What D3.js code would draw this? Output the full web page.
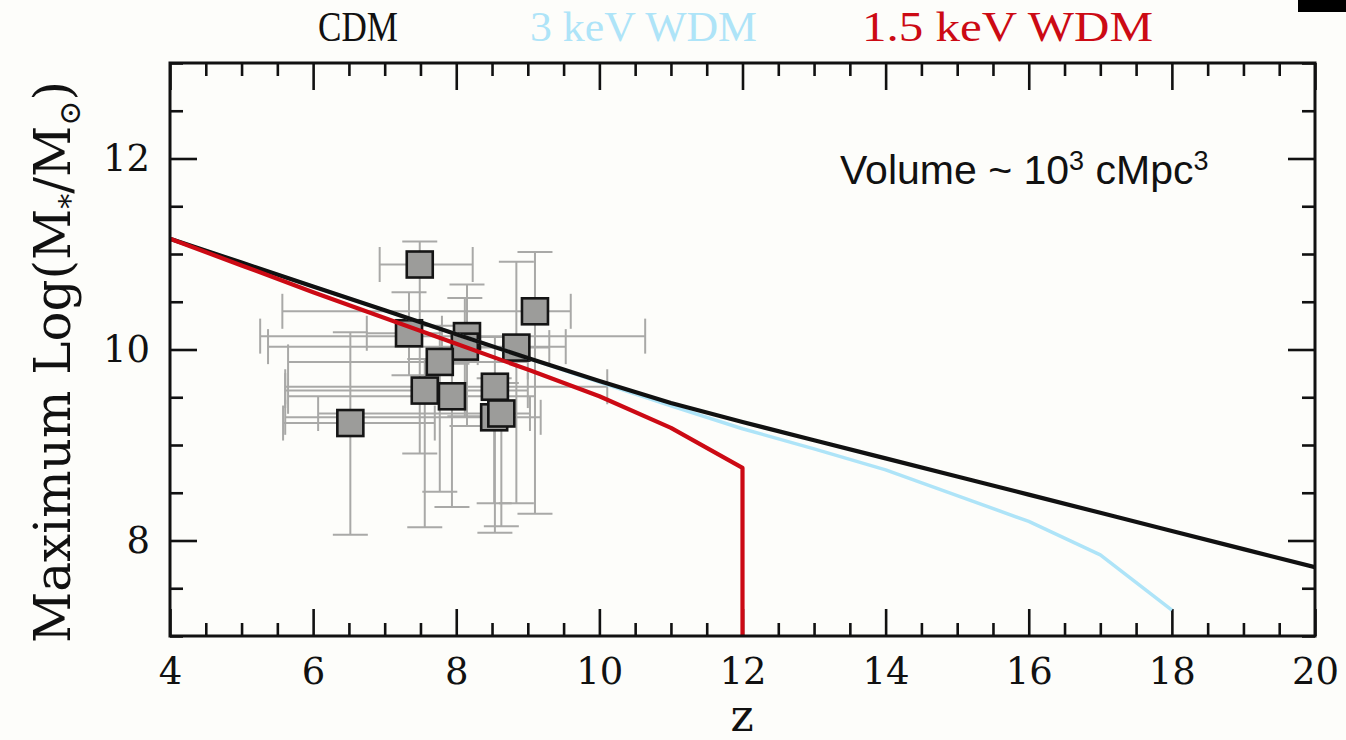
<!DOCTYPE html>
<html>
<head>
<meta charset="utf-8">
<script src="https://cdn.jsdelivr.net/npm/d3@7"></script>
<style>
  html, body { margin: 0; padding: 0; background: #fdfdfa; }
  svg { display: block; }
</style>
</head>
<body>
<svg id="chart" width="1346" height="740"></svg>
<script>
// Redshift grid for the model curves
const zCDM = [4, 5, 6, 7, 8, 9, 10, 11, 12, 13, 14, 15, 16, 17, 18, 19, 20];
const logMCDM = [11.16, 10.91, 10.66, 10.41, 10.16, 9.91, 9.67, 9.44, 9.24, 9.05, 8.86, 8.67, 8.48, 8.29, 8.10, 7.91, 7.72];

const zWDM3 = [4, 5, 6, 7, 8, 9, 10, 11, 12, 13, 14, 15, 16, 17, 18];
const logMWDM3 = [11.16, 10.91, 10.66, 10.41, 10.16, 9.91, 9.66, 9.41, 9.17, 8.96, 8.74, 8.47, 8.20, 7.85, 7.27];

const zWDM15 = [4, 5, 6, 7, 8, 9, 10, 11, 12, 12];
const logMWDM15 = [11.16, 10.88, 10.60, 10.33, 10.06, 9.79, 9.51, 9.18, 8.76, 6.90];

// Observed galaxies: redshift and stellar mass with their error ranges
const galZ    = [7.49, 7.34, 8.15, 8.12, 7.77, 8.84, 9.10, 7.56, 7.94, 8.54, 8.53, 8.63, 6.52];
const galZLo  = [6.93, 6.75, 5.26, 5.37, 5.65, 8.30, 5.57, 5.61, 5.65, 5.61, 5.61, 6.07, 5.58];
const galZHi  = [8.23, 7.80, 10.64, 9.53, 9.00, 9.30, 9.60, 9.00, 9.10, 10.11, 9.18, 9.03, 7.70];
const galM    = [10.89, 10.17, 10.14, 10.03, 9.87, 10.02, 10.40, 9.57, 9.51, 9.61, 9.29, 9.33, 9.23];
const galMLo  = [8.91, 9.73, 9.20, 9.30, 8.51, 8.39, 8.28, 8.14, 8.35, 8.08, 8.39, 8.15, 8.06];
const galMHi  = [11.13, 10.60, 10.68, 10.54, 10.25, 10.92, 11.02, 9.90, 9.85, 10.13, 9.70, 9.65, 10.18];

const xMajor = [4, 6, 8, 10, 12, 14, 16, 18, 20];
const yMajor = [8, 10, 12];

const legendLabels = ["CDM", "3 keV WDM", "1.5 keV WDM"];
const legendColors = ["#111111", "#aee4f8", "#cc0a14"];

const svg = d3.select("#chart");
const W = 1346, H = 740;
const padL = 170, padR = 1315, padT = 63, padB = 636;

svg.append("rect").attr("width", W).attr("height", H).attr("fill", "#fdfdfa");

const x = d3.scaleLinear().domain([4, 20]).range([padL, padR]);
const y = d3.scaleLinear().domain([7, 13]).range([padB, padT]);

const xMinor = d3.range(4, 20.01, 0.5).filter(v => !xMajor.includes(v));
const yMinor = d3.range(7, 13.01, 0.5).filter(v => !yMajor.includes(v));

const serif = "'DejaVu Serif', serif";

function styleAxis(g) {
  g.select(".domain").remove();
  g.selectAll(".tick line").attr("stroke", "#111").attr("stroke-width", 2.6);
  g.selectAll(".tick text").attr("fill", "#111").attr("font-family", serif).attr("font-size", 37);
}

// bottom axis: major ticks with labels, minor ticks
svg.append("g").attr("transform", `translate(0,${padB})`)
  .call(d3.axisBottom(x).tickValues(xMajor).tickSize(-27).tickPadding(22).tickFormat(d3.format("d")))
  .call(styleAxis);
svg.append("g").attr("transform", `translate(0,${padB})`)
  .call(d3.axisBottom(x).tickValues(xMinor).tickSize(-13).tickFormat(""))
  .call(styleAxis);

// top axis mirrors the bottom
svg.append("g").attr("transform", `translate(0,${padT})`)
  .call(d3.axisTop(x).tickValues(xMajor).tickSize(-27).tickFormat(""))
  .call(styleAxis);
svg.append("g").attr("transform", `translate(0,${padT})`)
  .call(d3.axisTop(x).tickValues(xMinor).tickSize(-13).tickFormat(""))
  .call(styleAxis);

// left axis
svg.append("g").attr("transform", `translate(${padL},0)`)
  .call(d3.axisLeft(y).tickValues(yMajor).tickSize(-27).tickPadding(20).tickFormat(d3.format("d")))
  .call(styleAxis);
svg.append("g").attr("transform", `translate(${padL},0)`)
  .call(d3.axisLeft(y).tickValues(yMinor).tickSize(-13).tickFormat(""))
  .call(styleAxis);

// right axis mirrors the left
svg.append("g").attr("transform", `translate(${padR},0)`)
  .call(d3.axisRight(y).tickValues(yMajor).tickSize(-27).tickFormat(""))
  .call(styleAxis);
svg.append("g").attr("transform", `translate(${padR},0)`)
  .call(d3.axisRight(y).tickValues(yMinor).tickSize(-13).tickFormat(""))
  .call(styleAxis);

// clip region for the data
svg.append("clipPath").attr("id", "plotClip")
  .append("rect").attr("x", padL).attr("y", padT).attr("width", padR - padL).attr("height", padB - padT);

const plot = svg.append("g").attr("clip-path", "url(#plotClip)");

// error bars
const errColor = "#a9a9a7";
const cap = 17.5;
const gal = galZ.map((z, i) => ({ z, zLo: galZLo[i], zHi: galZHi[i], m: galM[i], mLo: galMLo[i], mHi: galMHi[i] }));

const eb = plot.append("g").attr("stroke", errColor).attr("stroke-width", 2).attr("fill", "none");
gal.forEach(d => {
  eb.append("line").attr("x1", x(d.zLo)).attr("x2", x(d.zHi)).attr("y1", y(d.m)).attr("y2", y(d.m));
  eb.append("line").attr("x1", x(d.zLo)).attr("x2", x(d.zLo)).attr("y1", y(d.m) - cap).attr("y2", y(d.m) + cap);
  eb.append("line").attr("x1", x(d.zHi)).attr("x2", x(d.zHi)).attr("y1", y(d.m) - cap).attr("y2", y(d.m) + cap);
  eb.append("line").attr("x1", x(d.z)).attr("x2", x(d.z)).attr("y1", y(d.mLo)).attr("y2", y(d.mHi));
  eb.append("line").attr("x1", x(d.z) - cap).attr("x2", x(d.z) + cap).attr("y1", y(d.mLo)).attr("y2", y(d.mLo));
  eb.append("line").attr("x1", x(d.z) - cap).attr("x2", x(d.z) + cap).attr("y1", y(d.mHi)).attr("y2", y(d.mHi));
});

// galaxy markers
const sq = 26;
plot.append("g").selectAll("rect").data(gal).join("rect")
  .attr("x", d => x(d.z) - sq / 2).attr("y", d => y(d.m) - sq / 2)
  .attr("width", sq).attr("height", sq)
  .attr("fill", "#9c9c9a").attr("stroke", "#151515").attr("stroke-width", 2.6);

// model curves
const line = d3.line().x(d => x(d[0])).y(d => y(d[1]));
plot.append("path").datum(zWDM3.map((z, i) => [z, logMWDM3[i]]))
  .attr("d", line).attr("fill", "none").attr("stroke", legendColors[1]).attr("stroke-width", 3.5)
  .attr("stroke-linejoin", "round");
plot.append("path").datum(zCDM.map((z, i) => [z, logMCDM[i]]))
  .attr("d", line).attr("fill", "none").attr("stroke", legendColors[0]).attr("stroke-width", 4.2)
  .attr("stroke-linejoin", "round");
plot.append("path").datum(zWDM15.map((z, i) => [z, logMWDM15[i]]))
  .attr("d", line).attr("fill", "none").attr("stroke", legendColors[2]).attr("stroke-width", 4.2)
  .attr("stroke-linejoin", "round");

// frame
svg.append("rect").attr("x", padL).attr("y", padT).attr("width", padR - padL).attr("height", padB - padT)
  .attr("fill", "none").attr("stroke", "#111").attr("stroke-width", 3);

// legend across the top
const legendX = [318, 530, 862];
const legendW = [80, 227, 291];
svg.append("g").selectAll("text").data(legendLabels).join("text")
  .attr("x", (d, i) => legendX[i]).attr("y", 41)
  .attr("textLength", (d, i) => legendW[i])
  .attr("lengthAdjust", "spacingAndGlyphs")
  .attr("font-family", "'Liberation Serif', 'Times New Roman', serif").attr("font-size", 42)
  .attr("fill", (d, i) => legendColors[i])
  .text(d => d);

// corner block
svg.append("rect").attr("x", 1298).attr("y", 0).attr("width", 48).attr("height", 12).attr("fill", "#000");

// annotation
const ann = svg.append("text").attr("x", 840).attr("y", 184)
  .attr("font-family", "'Liberation Sans', Arial, sans-serif").attr("font-size", 41).attr("fill", "#111");
ann.append("tspan").text("Volume ~ 10");
ann.append("tspan").attr("font-size", 27).attr("dy", -14).text("3");
ann.append("tspan").attr("dy", 14).text(" cMpc");
ann.append("tspan").attr("font-size", 27).attr("dy", -14).text("3");

// axis titles
svg.append("text").attr("x", 742).attr("y", 731).attr("text-anchor", "middle")
  .attr("font-family", serif).attr("font-size", 44).attr("fill", "#111").text("z");

const yt = svg.append("text")
  .attr("transform", "translate(70,362) rotate(-90)")
  .attr("text-anchor", "middle")
  .attr("font-family", serif).attr("font-size", 50).attr("fill", "#111");
yt.append("tspan").text("Maximum Log(M");
yt.append("tspan").attr("font-size", 30).attr("dy", 10).text("*");
yt.append("tspan").attr("dy", -10).text("/M");
yt.append("tspan").attr("font-size", 30).attr("dy", 10).text("⊙");
yt.append("tspan").attr("dy", -10).text(")");
</script>
</body>
</html>
